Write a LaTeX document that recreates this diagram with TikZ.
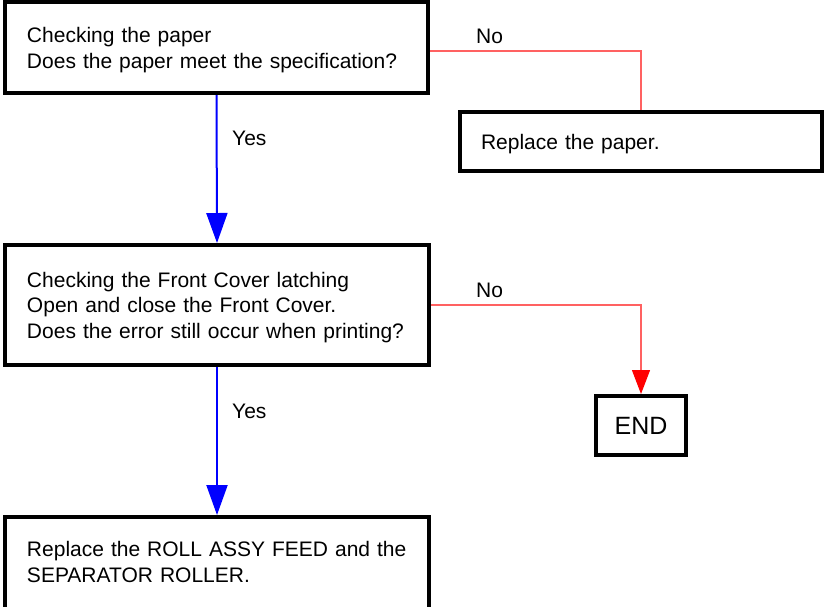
\documentclass[tikz,border=0pt]{standalone}
\usepackage{fontspec}
\setmainfont{Liberation Sans}
\usetikzlibrary{arrows.meta}
\definecolor{nored}{rgb}{1,0.38,0.38}
\begin{document}
\begin{tikzpicture}[x=1pt,y=-1pt,
  box/.style={draw=black, line width=4pt, fill=white, rectangle, align=left,
    font=\fontsize{21}{25.5}\selectfont, text height=15pt, inner ysep=0pt, inner xsep=22pt},
  endbox/.style={draw=black, line width=4pt, fill=white, rectangle, align=center,
    font=\fontsize{25}{30}\selectfont, text height=18pt, text depth=0pt, inner sep=0pt,
    minimum width=90pt, minimum height=59pt},
  lbl/.style={font=\fontsize{21}{25.5}\selectfont, inner sep=0pt, anchor=base west},
  yesarrow/.style={draw=blue, line width=2pt, -{Triangle[length=30pt,width=21pt,fill=blue,color=blue]}},
  nolineA/.style={color=nored, line width=1.2pt},
  noarrow/.style={color=nored, line width=1.2pt, -{Triangle[length=24pt,width=18pt,fill=red,color=red]}}
]
\clip (0,0) rectangle (824,606);
\fill[white] (0,0) rectangle (824,606);

\node[box, text width=379pt, minimum width=423pt, minimum height=91pt, text depth=25pt] (b1) at (216.5,47.5)
  {Checking the paper\\Does the paper meet the specification?};
\node[box, inner xsep=21pt, text width=320pt, minimum width=362pt, minimum height=59pt, text depth=0pt] (b2) at (641,141.5)
  {Replace the paper.};
\node[box, text width=380pt, minimum width=424pt, minimum height=120pt, text depth=51pt] (b3) at (217,305)
  {Checking the Front Cover latching\\Open and close the Front Cover.\\Does the error still occur when printing?};
\node[endbox] (end) at (641,425.5) {END};
\node[box, text width=380pt, minimum width=424pt, minimum height=94pt, text depth=30pt] (b4) at (217,564)
  {Replace the ROLL ASSY FEED and the\\SEPARATOR ROLLER.};

\draw[yesarrow] (b1.south) -- (b3.north);
\draw[yesarrow] (b3.south) -- (b4.north);
\draw[nolineA] ([yshift=-3.5pt]b1.east) -| (b2.north);
\draw[noarrow] (b3.east) -| (end.north);

\node[lbl] (yes1) at (232,145) {Yes};
\node[lbl] (yes2) at (232,418) {Yes};
\node[lbl] (no1) at (476,43) {No};
\node[lbl] (no2) at (476,297) {No};
\end{tikzpicture}
\end{document}
